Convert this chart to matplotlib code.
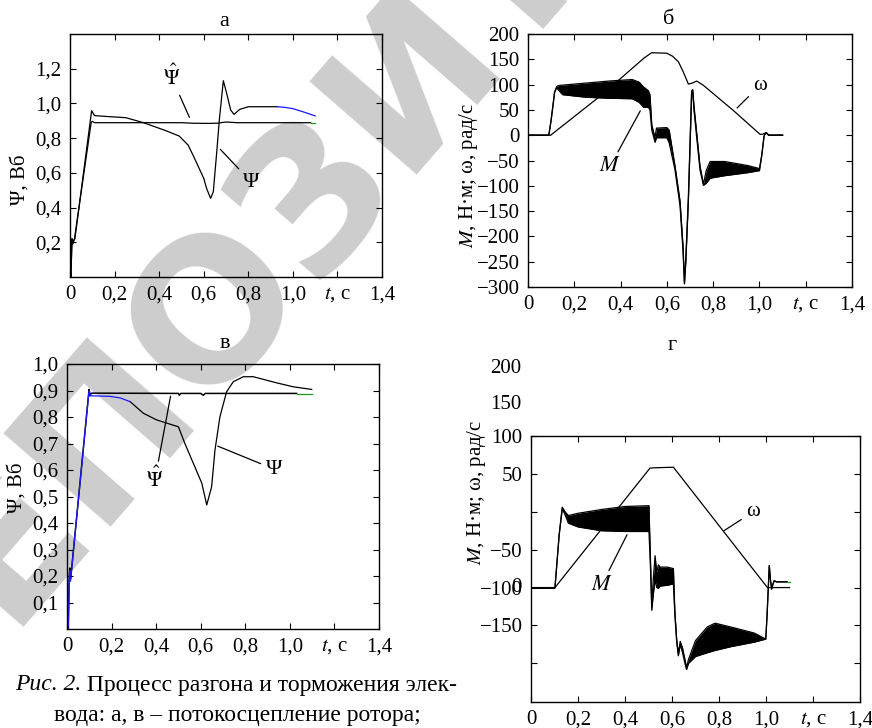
import matplotlib
matplotlib.use("Agg")
import matplotlib.pyplot as plt

plt.rcParams['font.family'] = ['Liberation Serif', 'DejaVu Serif']
plt.rcParams['mathtext.fontset'] = 'stix'
plt.rcParams['font.size'] = 15

# ---- панель а: потокосцепление (Вб) ----
psi_a_t = [0, 0.004, 0.009, 0.012, 0.016, 0.022, 0.097, 0.11, 0.15, 0.25, 0.33, 0.43, 0.49,
           0.53, 0.555, 0.6, 0.613, 0.631, 0.643, 0.658, 0.67, 0.688, 0.703, 0.721, 0.736,
           0.762, 0.8, 0.93]
psi_a_v = [0.05, 0.0, 0.22, 0.19, 0.21, 0.22, 0.958, 0.93, 0.926, 0.918, 0.889, 0.843, 0.812,
           0.76, 0.694, 0.569, 0.51, 0.453, 0.491, 0.713, 0.904, 1.131, 1.058, 0.962, 0.937,
           0.966, 0.981, 0.981]
psi_a_blue_t = [0.93, 0.96, 1.0, 1.05, 1.1]
psi_a_blue_v = [0.981, 0.978, 0.97, 0.95, 0.928]
est_a_t = [0, 0.004, 0.009, 0.012, 0.02, 0.095, 0.1, 0.11, 0.5, 0.55, 0.62, 0.66, 0.7, 0.75, 1.08]
est_a_v = [0.05, 0.0, 0.22, 0.19, 0.22, 0.89, 0.897, 0.889, 0.889, 0.886, 0.885, 0.886, 0.893,
           0.889, 0.889]
est_a_green_t = [1.08, 1.1]
est_a_green_v = [0.889, 0.889]

# ---- панель б: момент и скорость ----
w_b_t = [0, 0.098, 0.3, 0.39, 0.5, 0.534, 0.6, 0.625, 0.65, 0.671, 0.693, 0.71, 0.729, 0.758,
         0.887, 1.003, 1.015, 1.028, 1.04, 1.1]
w_b_v = [0, 0, 73, 108, 152, 163, 162, 156, 145, 125, 101, 103, 107, 98.5, 49, 1.6, 2, 5, 0, 0]
m_b_t = [0, 0.09, 0.1, 0.115, 0.124, 0.13, 0.15, 0.25, 0.35, 0.45, 0.48, 0.5, 0.52, 0.527,
         0.535, 0.549, 0.555, 0.6, 0.61, 0.635, 0.657, 0.67, 0.676, 0.682, 0.693, 0.707, 0.712,
         0.717, 0.743, 0.758, 0.77, 0.787, 0.85, 0.95, 1.0, 1.01, 1.02, 1.024, 1.03, 1.04, 1.1]
m_b_hi = [0, 0, 30, 85, 96, 98, 99, 103, 107, 110, 105, 95, 88, 80, 20, -5, 14, 15, 10, -60,
          -130, -220, -292, -240, -122, 88, 90, 59, -60, -97, -70, -52, -52, -60, -66, -40, -2,
          2, 5, 0, 0]
m_b_lo = [0, 0, 30, 85, 94, 90, 80, 75, 73, 72, 65, 55, 55, 50, 10, -14, -5, -5, -15, -68,
          -140, -230, -294, -250, -130, 80, 84, 50, -68, -99, -95, -85, -80, -74, -70, -40, -2,
          2, 5, 0, 0]

# ---- панель в: потокосцепление (Вб) ----
est_c_t = [0, 0.003, 0.006, 0.01, 0.013, 0.016, 0.02, 0.099, 0.103, 0.11, 0.5, 0.504, 0.51,
           0.6, 0.612, 0.62, 1.03]
est_c_v = [0.05, 0.02, 0.0, 0.2, 0.23, 0.19, 0.22, 0.904, 0.88, 0.89, 0.889, 0.882, 0.889,
           0.889, 0.882, 0.889, 0.889]
est_c_green_t = [1.03, 1.1]
est_c_green_v = [0.888, 0.888]
psi_c_blue_t = [0, 0.003, 0.006, 0.01, 0.013, 0.016, 0.02, 0.099, 0.105, 0.15, 0.193, 0.238,
                0.283]
psi_c_blue_v = [0.03, 0.0, 0.02, 0.19, 0.22, 0.18, 0.22, 0.9, 0.88, 0.879, 0.878, 0.872, 0.858]
psi_c_t = [0.283, 0.343, 0.402, 0.5, 0.529, 0.567, 0.605, 0.627, 0.649, 0.664, 0.686, 0.716,
           0.746, 0.791, 0.836, 0.94, 1.015, 1.098]
psi_c_v = [0.858, 0.814, 0.789, 0.763, 0.7, 0.625, 0.55, 0.468, 0.537, 0.675, 0.8, 0.895,
           0.933, 0.952, 0.952, 0.929, 0.914, 0.904]

# ---- панель г: момент и скорость ----
w_d_t = [0, 0.102, 0.506, 0.52, 0.606, 1.006, 1.1]
w_d_v = [0, 0, 157.5, 158, 158.8, 0, 0]
m_d_t = [0, 0.1, 0.102, 0.12, 0.133, 0.145, 0.159, 0.2, 0.3, 0.4, 0.5, 0.502, 0.508, 0.514,
         0.52, 0.528, 0.535, 0.542, 0.549, 0.58, 0.606, 0.612, 0.62, 0.627, 0.635, 0.645, 0.655,
         0.662, 0.67, 0.7, 0.75, 0.783, 0.85, 0.95, 0.999, 1.004, 1.014, 1.019, 1.024, 1.03,
         1.035, 1.045, 1.09]
m_d_hi = [-1, -1, 0, 70, 106, 100, 95, 98, 103, 107, 108, 108, 40, -25, 10, 42, 20, 30, 27, 27,
          25, -30, -69, -87, -71, -80, -95, -106, -95, -70, -52, -47, -52, -60, -68, -40, 29,
          10, -2, 5, 9, 7.5, 7.5]
m_d_lo = [-1, -1, 0, 70, 104, 96, 85, 80, 75, 74, 74, 74, 30, -30, -10, 10, 0, -1, 2, 3, 5,
          -35, -72, -90, -75, -86, -100, -108, -100, -91, -86, -83, -78, -72, -68, -40, 29, 10,
          -2, 5, 9, 7.5, 7.5]
m_d_green_t = [1.09, 1.1]
m_d_green_v = [7.5, 7.5]

x_ticks = [0, 0.2, 0.4, 0.6, 0.8, 1.0, 1.2, 1.4]
x_labels = ['0', '0,2', '0,4', '0,6', '0,8', '1,0', '$t$, с', '1,4']

BLUE = '#1a1aff'
GREEN = '#1f9a1f'
LW = 0.9

fig = plt.figure(figsize=(8.72, 7.28), dpi=100)
W, H = 872.0, 728.0


def make_ax(l, t, r, b):
    ax = fig.add_axes([l / W, 1 - b / H, (r - l) / W, (b - t) / H])
    ax.patch.set_visible(False)
    ax.tick_params(direction='in', top=True, right=True, length=4, width=0.8,
                   labelsize=15, pad=6)
    for s in ax.spines.values():
        s.set_linewidth(1.0)
    ax.set_xlim(0, 1.4)
    ax.set_xticks(x_ticks)
    ax.set_xticklabels(x_labels)
    return ax


# водяной знак
fig.text(420 / W, 1 - 68 / H, 'РЕПОЗИТОРИЙ', rotation=49, rotation_mode='anchor',
         ha='center', va='center', fontsize=140, color='#cdcdcd',
         family='DejaVu Sans', weight='bold', zorder=-5)

# а
ax = make_ax(70, 34, 382, 277)
ax.set_ylim(0, 1.4)
ax.set_yticks([0.2, 0.4, 0.6, 0.8, 1.0, 1.2])
ax.set_yticklabels(['0,2', '0,4', '0,6', '0,8', '1,0', '1,2'])
ax.plot(est_a_t, est_a_v, color='k', lw=LW)
ax.plot(est_a_green_t, est_a_green_v, color=GREEN, lw=LW)
ax.plot(psi_a_t, psi_a_v, color='k', lw=LW)
ax.plot(psi_a_blue_t, psi_a_blue_v, color=BLUE, lw=LW)
ax.annotate(r'$\hat{\Psi}$', xy=(0.541, 0.905), xytext=(0.456, 1.15), ha='center',
            va='center', fontsize=15, arrowprops=dict(arrowstyle='-', lw=0.9, color='k'))
ax.annotate('Ψ', xy=(0.666, 0.747), xytext=(0.815, 0.545), ha='center', va='center',
            fontsize=16, arrowprops=dict(arrowstyle='-', lw=0.9, color='k'))
fig.text(224 / W, 1 - 21 / H, 'а', ha='center', va='center', fontsize=16)
fig.text(20 / W, 1 - 180 / H, 'Ψ, Вб', ha='center', va='center', rotation=90, fontsize=15)

# б
ax = make_ax(528, 34, 852, 287)
ax.set_ylim(-300, 200)
yt = list(range(-300, 201, 50))
ax.set_yticks(yt)
ax.set_yticklabels([str(v).replace('-', '−') for v in yt])
ax.fill_between(m_b_t, m_b_lo, m_b_hi, color='k', lw=0)
ax.plot(m_b_t, m_b_hi, color='k', lw=LW)
ax.plot(m_b_t, m_b_lo, color='k', lw=LW)
ax.plot(w_b_t, w_b_v, color='k', lw=LW)
ax.annotate('$M$', xy=(0.491, 53), xytext=(0.354, -62), ha='center', va='center',
            fontsize=16, arrowprops=dict(arrowstyle='-', lw=0.9, color='k'))
ax.annotate('ω', xy=(0.895, 50), xytext=(1.003, 99), ha='center', va='center',
            fontsize=15, arrowprops=dict(arrowstyle='-', lw=0.9, color='k'))
fig.text(669 / W, 1 - 19 / H, 'б', ha='center', va='center', fontsize=16)
fig.text(468 / W, 1 - 175 / H, '$M$, Н·м; ω, рад/с', ha='center', va='center',
         rotation=90, fontsize=15)

# в
ax = make_ax(67, 364, 379, 629)
ax.set_ylim(0, 1.0)
yt = [0.1, 0.2, 0.3, 0.4, 0.5, 0.6, 0.7, 0.8, 0.9, 1.0]
ax.set_yticks(yt)
ax.set_yticklabels([f'{v:.1f}'.replace('.', ',') for v in yt])
ax.plot(est_c_t, est_c_v, color='k', lw=1.1)
ax.plot(est_c_green_t, est_c_green_v, color=GREEN, lw=LW)
ax.plot(psi_c_t, psi_c_v, color='k', lw=LW)
ax.plot(psi_c_blue_t, psi_c_blue_v, color=BLUE, lw=LW)
ax.annotate(r'$\hat{\Psi}$', xy=(0.467, 0.889), xytext=(0.395, 0.565), ha='center',
            va='center', fontsize=15, arrowprops=dict(arrowstyle='-', lw=0.9, color='k'))
ax.annotate('Ψ', xy=(0.665, 0.694), xytext=(0.93, 0.603), ha='center', va='center',
            fontsize=16, arrowprops=dict(arrowstyle='-', lw=0.9, color='k'))
fig.text(225 / W, 1 - 344 / H, 'в', ha='center', va='center', fontsize=16)
fig.text(17 / W, 1 - 488 / H, 'Ψ, Вб', ha='center', va='center', rotation=90, fontsize=15)

# г
ax = make_ax(531, 436, 860, 702)
ax.set_ylim(-151, 200)
ax.set_yticks([200, 150, 100, 50, 0, -50, -100])
ax.set_yticklabels(['100', '50', '', '−50', '−100', '−150', ''])
ytr = ax.get_yaxis_transform()
ax.text(-0.03, 0, '0', transform=ytr, ha='right', va='center', fontsize=15)
ax.text(-0.03, 289, '200', transform=ytr, ha='right', va='center', fontsize=15, clip_on=False)
ax.text(-0.03, 242, '150', transform=ytr, ha='right', va='center', fontsize=15, clip_on=False)
ax.fill_between(m_d_t, m_d_lo, m_d_hi, color='k', lw=0)
ax.plot(m_d_t, m_d_hi, color='k', lw=LW)
ax.plot(m_d_t, m_d_lo, color='k', lw=LW)
ax.plot(m_d_green_t, m_d_green_v, color=GREEN, lw=LW)
ax.plot(w_d_t, w_d_v, color='k', lw=LW)
ax.annotate('$M$', xy=(0.414, 73), xytext=(0.3, 3), ha='center', va='center',
            fontsize=16, arrowprops=dict(arrowstyle='-', lw=0.9, color='k'))
ax.annotate('ω', xy=(0.811, 73), xytext=(0.946, 100), ha='center', va='center',
            fontsize=15, arrowprops=dict(arrowstyle='-', lw=0.9, color='k'))
fig.text(672 / W, 1 - 346 / H, 'г', ha='center', va='center', fontsize=16)
fig.text(476 / W, 1 - 492 / H, '$M$, Н·м; ω, рад/с', ha='center', va='center',
         rotation=90, fontsize=15)

# подпись
renderer = fig.canvas.get_renderer()
t1 = fig.text(15 / W, 1 - 685 / H, 'Рис. 2.', style='italic', ha='left', va='center',
              fontsize=17)
bb = t1.get_window_extent(renderer)
fig.text(bb.x1 / W, 1 - 685 / H, ' Процесс разгона и торможения элек-', ha='left',
         va='center', fontsize=17)
fig.text(237 / W, 1 - 715 / H, 'вода: а, в – потокосцепление ротора;', ha='center',
         va='center', fontsize=17)

fig.savefig('out.png', dpi=100)
